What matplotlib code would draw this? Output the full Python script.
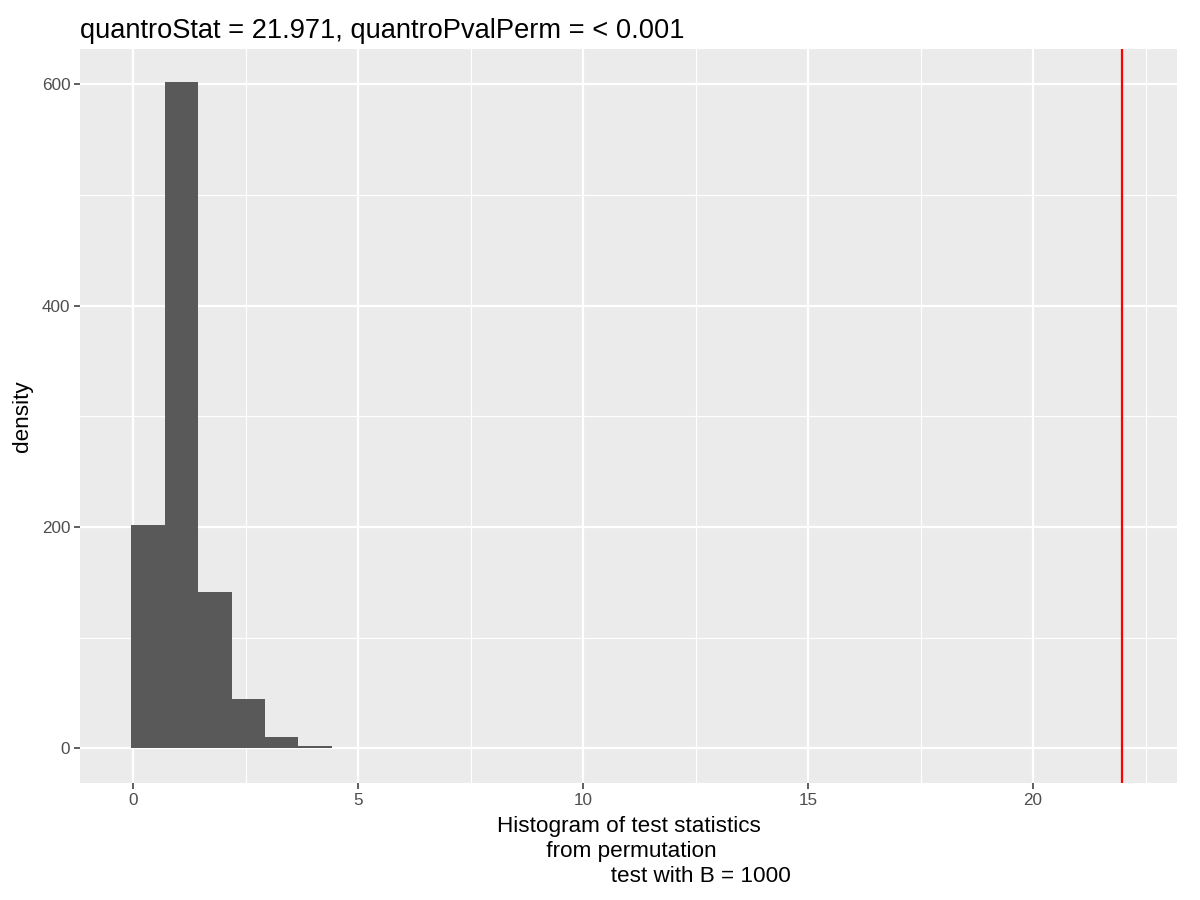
import numpy as np
import matplotlib.pyplot as plt

plt.rcParams['font.family'] = ['Liberation Sans', 'DejaVu Sans']

# Histogram of permutation statistics (bin edges and heights)
bin_edges = [-0.04, 0.70, 1.44, 2.19, 2.93, 3.67, 4.41]
densities = [202, 602, 141, 44, 10, 1.5]
quantro_stat = 21.971
title_text = "quantroStat = 21.971, quantroPvalPerm = < 0.001"
x_label = ("Histogram of test statistics\n from permutation\n"
           + " " * 23 + "test with B = 1000")

fig = plt.figure(figsize=(12, 9), dpi=100)
ax = fig.add_axes([80 / 1200, 1 - 783 / 900, 1097 / 1200, 734 / 900])
ax.set_facecolor('#EBEBEB')

lefts = np.array(bin_edges[:-1])
widths = np.diff(bin_edges)
ax.bar(lefts, densities, width=widths, align='edge', color='#595959',
       linewidth=0, zorder=2)
ax.axvline(quantro_stat, color='#FF0000', linewidth=1.6, zorder=3)

ax.set_xlim(-1.18, 23.2)
ax.set_ylim(-31.5, 632)
ax.set_xticks([0, 5, 10, 15, 20])
ax.set_xticks([2.5, 7.5, 12.5, 17.5, 22.5], minor=True)
ax.set_yticks([0, 200, 400, 600])
ax.set_yticks([100, 300, 500], minor=True)

ax.grid(which='major', color='white', linewidth=1.6, zorder=0)
ax.grid(which='minor', color='white', linewidth=0.8, zorder=0)
ax.set_axisbelow(True)
for spine in ax.spines.values():
    spine.set_visible(False)

ax.tick_params(which='major', length=4, width=1.1, color='#333333',
               labelcolor='#4D4D4D', labelsize=12.3, pad=3)
ax.tick_params(which='minor', length=0)

ax.set_xlabel(x_label, fontsize=16.2, multialignment='center', labelpad=6,
              linespacing=1.24)
ax.set_ylabel('density', fontsize=16.2, labelpad=6)
ax.set_title(title_text, loc='left', fontsize=19.6, pad=8)

fig.savefig('out.png', dpi=100)
